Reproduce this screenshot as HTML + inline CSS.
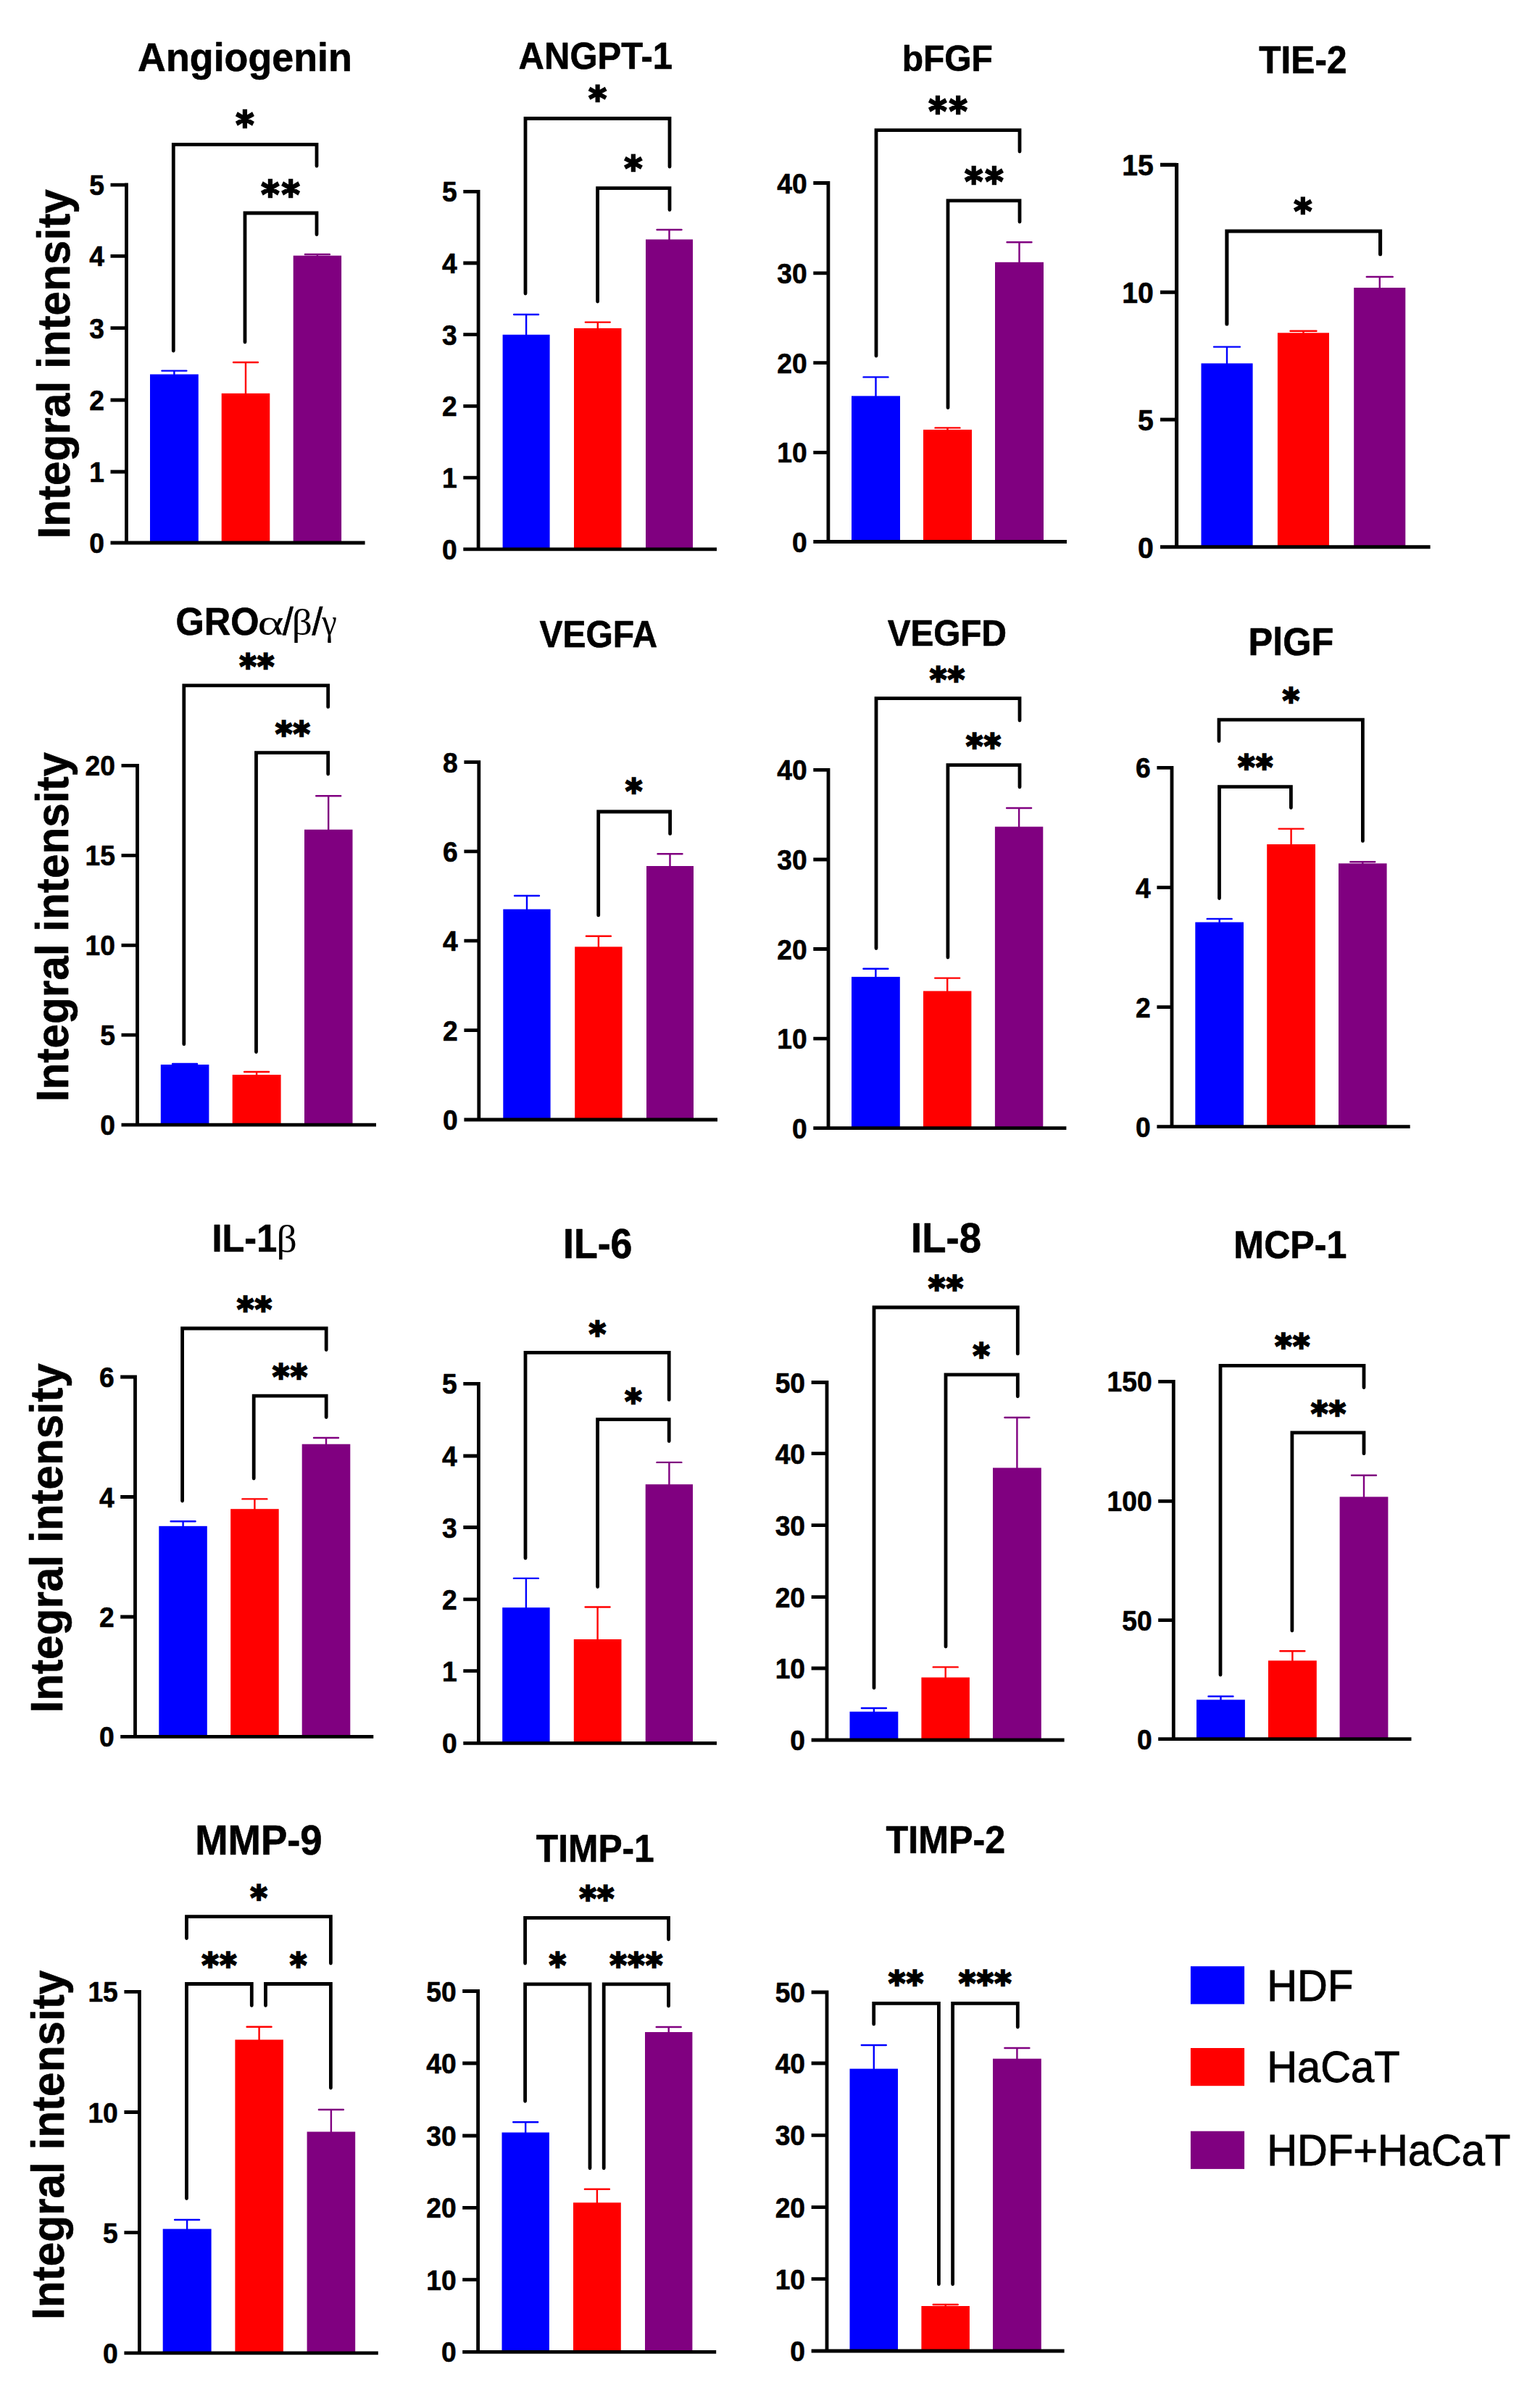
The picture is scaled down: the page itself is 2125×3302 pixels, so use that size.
<!DOCTYPE html>
<html lang="en"><head><meta charset="utf-8"><title>Integral intensity bar charts</title>
<style>html,body{margin:0;padding:0;background:#fff}svg{display:block}.b{font-family:"Liberation Sans",Arial,Helvetica,sans-serif;font-weight:bold;fill:#000;stroke:#000;stroke-width:0.6px;stroke-linejoin:round}.r{font-family:"Liberation Sans",Arial,Helvetica,sans-serif;fill:#000}.g{font-family:"Liberation Serif","Times New Roman",serif;font-weight:normal}.s{font-family:"DejaVu Sans","Liberation Sans",sans-serif;font-weight:bold;fill:#000;text-anchor:middle}.ax{stroke:#000;fill:none;stroke-linecap:butt;stroke-linejoin:miter}.br{stroke:#000;fill:none;stroke-linecap:round;stroke-linejoin:miter}</style></head><body>
<svg width="2125" height="3302" viewBox="0 0 2125 3302">
<rect width="2125" height="3302" fill="#fff"/>
<g>
<text class="b" transform="translate(338 98) scale(1 1.045)" font-size="53.8" text-anchor="middle">Angiogenin</text>
<rect x="207.0" y="516.5" width="66.8" height="232.5" fill="#0000ff"/>
<path d="M240.4 516.5V511.6M223.4 511.6H257.4" stroke="#0000ff" stroke-width="2.4" stroke-linecap="round" fill="none"/>
<rect x="305.7" y="542.8" width="66.6" height="206.2" fill="#ff0000"/>
<path d="M339.0 542.8V500.0M322.0 500.0H356.0" stroke="#ff0000" stroke-width="2.4" stroke-linecap="round" fill="none"/>
<rect x="404.7" y="352.7" width="66.4" height="396.3" fill="#800080"/>
<path d="M437.9 352.7V351.0M420.9 351.0H454.9" stroke="#800080" stroke-width="2.4" stroke-linecap="round" fill="none"/>
<path class="ax" d="M174.5 252.5V749M152.5 749H503.6M152.5 255.2H174.5M152.5 353.4H174.5M152.5 452.7H174.5M152.5 552H174.5M152.5 651H174.5" stroke-width="4.8"/>
<text class="b" transform="translate(143.9 269.2) scale(1 1.05)" font-size="37.2" text-anchor="end">5</text>
<text class="b" transform="translate(143.9 367.4) scale(1 1.05)" font-size="37.2" text-anchor="end">4</text>
<text class="b" transform="translate(143.9 466.7) scale(1 1.05)" font-size="37.2" text-anchor="end">3</text>
<text class="b" transform="translate(143.9 566.0) scale(1 1.05)" font-size="37.2" text-anchor="end">2</text>
<text class="b" transform="translate(143.9 665.0) scale(1 1.05)" font-size="37.2" text-anchor="end">1</text>
<text class="b" transform="translate(143.9 763.0) scale(1 1.05)" font-size="37.2" text-anchor="end">0</text>
<path class="br" d="M239.3 484V199.3H437V229" stroke-width="4.8"/>
<path class="br" d="M338 472V294H437V323.6" stroke-width="4.8"/>
<text class="s" transform="translate(339.7 190.2) scale(1 1.08)" font-size="47.5" letter-spacing="3.4" stroke="#000" stroke-width="2.3">*</text>
<text class="s" transform="translate(388.7 286.1) scale(1 1.08)" font-size="47.5" letter-spacing="3.4" stroke="#000" stroke-width="2.3">**</text>
</g>
<g>
<text class="b" transform="translate(821.8 94.6) scale(1 1.045)" font-size="49.0" text-anchor="middle">ANGPT-1</text>
<rect x="693.6" y="461.8" width="65.0" height="296.1" fill="#0000ff"/>
<path d="M726.1 461.8V434.0M709.1 434.0H743.1" stroke="#0000ff" stroke-width="2.4" stroke-linecap="round" fill="none"/>
<rect x="792.0" y="452.9" width="65.5" height="305.0" fill="#ff0000"/>
<path d="M824.8 452.9V444.6M807.8 444.6H841.8" stroke="#ff0000" stroke-width="2.4" stroke-linecap="round" fill="none"/>
<rect x="891.0" y="330.4" width="65.0" height="427.5" fill="#800080"/>
<path d="M923.5 330.4V317.0M906.5 317.0H940.5" stroke="#800080" stroke-width="2.4" stroke-linecap="round" fill="none"/>
<path class="ax" d="M660.1 261.9V757.9M639.3 757.9H989M639.3 264.3H660.1M639.3 363H660.1M639.3 461.7H660.1M639.3 560.4H660.1M639.3 659.1H660.1" stroke-width="4.8"/>
<text class="b" transform="translate(630.7 278.3) scale(1 1.05)" font-size="37.2" text-anchor="end">5</text>
<text class="b" transform="translate(630.7 377.0) scale(1 1.05)" font-size="37.2" text-anchor="end">4</text>
<text class="b" transform="translate(630.7 475.7) scale(1 1.05)" font-size="37.2" text-anchor="end">3</text>
<text class="b" transform="translate(630.7 574.4) scale(1 1.05)" font-size="37.2" text-anchor="end">2</text>
<text class="b" transform="translate(630.7 673.1) scale(1 1.05)" font-size="37.2" text-anchor="end">1</text>
<text class="b" transform="translate(630.7 771.9) scale(1 1.05)" font-size="37.2" text-anchor="end">0</text>
<path class="br" d="M725 405V163.5H924V230" stroke-width="4.8"/>
<path class="br" d="M824.6 416V259.7H924V289.5" stroke-width="4.8"/>
<text class="s" transform="translate(825.5 153.2) scale(1 1.03)" font-size="47.3" letter-spacing="1.6" stroke="#000" stroke-width="2.3">*</text>
<text class="s" transform="translate(874.7 249.1) scale(1 1.03)" font-size="47.3" letter-spacing="1.6" stroke="#000" stroke-width="2.3">*</text>
</g>
<g>
<text class="b" transform="translate(1307.3 98.2) scale(1 1.045)" font-size="48.0" text-anchor="middle">bFGF</text>
<rect x="1175.0" y="546.4" width="67.0" height="201.1" fill="#0000ff"/>
<path d="M1208.5 546.4V520.4M1191.5 520.4H1225.5" stroke="#0000ff" stroke-width="2.4" stroke-linecap="round" fill="none"/>
<rect x="1274.0" y="592.9" width="67.0" height="154.6" fill="#ff0000"/>
<path d="M1307.5 592.9V590.4M1290.5 590.4H1324.5" stroke="#ff0000" stroke-width="2.4" stroke-linecap="round" fill="none"/>
<rect x="1373.0" y="361.8" width="67.0" height="385.7" fill="#800080"/>
<path d="M1406.5 361.8V334.3M1389.5 334.3H1423.5" stroke="#800080" stroke-width="2.4" stroke-linecap="round" fill="none"/>
<path class="ax" d="M1142.9 250.1V747.5M1122.3 747.5H1472M1122.3 252.5H1142.9M1122.3 376.8H1142.9M1122.3 500.7H1142.9M1122.3 624.3H1142.9" stroke-width="4.8"/>
<text class="b" transform="translate(1113.7 266.5) scale(1 1.05)" font-size="37.2" text-anchor="end">40</text>
<text class="b" transform="translate(1113.7 390.8) scale(1 1.05)" font-size="37.2" text-anchor="end">30</text>
<text class="b" transform="translate(1113.7 514.7) scale(1 1.05)" font-size="37.2" text-anchor="end">20</text>
<text class="b" transform="translate(1113.7 638.3) scale(1 1.05)" font-size="37.2" text-anchor="end">10</text>
<text class="b" transform="translate(1113.7 761.5) scale(1 1.05)" font-size="37.2" text-anchor="end">0</text>
<path class="br" d="M1209 491V179.6H1407V209" stroke-width="4.8"/>
<path class="br" d="M1308 562.5V276.8H1407V306" stroke-width="4.8"/>
<text class="s" transform="translate(1309.8 170.8) scale(1 1.08)" font-size="47.5" letter-spacing="3.4" stroke="#000" stroke-width="2.3">**</text>
<text class="s" transform="translate(1359.4 267.8) scale(1 1.08)" font-size="47.5" letter-spacing="3.4" stroke="#000" stroke-width="2.3">**</text>
</g>
<g>
<text class="b" transform="translate(1797.9 101) scale(1 1.075)" font-size="49.6" text-anchor="middle">TIE-2</text>
<rect x="1657.5" y="501.4" width="71.1" height="253.4" fill="#0000ff"/>
<path d="M1693.0 501.4V478.6M1675.0 478.6H1711.0" stroke="#0000ff" stroke-width="2.4" stroke-linecap="round" fill="none"/>
<rect x="1762.9" y="459.3" width="71.1" height="295.5" fill="#ff0000"/>
<path d="M1798.5 459.3V456.8M1780.5 456.8H1816.5" stroke="#ff0000" stroke-width="2.4" stroke-linecap="round" fill="none"/>
<rect x="1868.2" y="397.0" width="71.1" height="357.8" fill="#800080"/>
<path d="M1903.8 397.0V382.0M1885.8 382.0H1921.8" stroke="#800080" stroke-width="2.4" stroke-linecap="round" fill="none"/>
<path class="ax" d="M1623.6 224.9V754.8M1601 754.8H1973.6M1601 227.4H1623.6M1601 403.2H1623.6M1601 579H1623.6" stroke-width="5.1"/>
<text class="b" transform="translate(1591.8 242.1) scale(1 1.05)" font-size="39.2" text-anchor="end">15</text>
<text class="b" transform="translate(1591.8 417.9) scale(1 1.05)" font-size="39.2" text-anchor="end">10</text>
<text class="b" transform="translate(1591.8 593.7) scale(1 1.05)" font-size="39.2" text-anchor="end">5</text>
<text class="b" transform="translate(1591.8 769.5) scale(1 1.05)" font-size="39.2" text-anchor="end">0</text>
<path class="br" d="M1692.9 447V319H1904.6V350.7" stroke-width="5.1"/>
<text class="s" transform="translate(1798.7 308.3) scale(1 1.03)" font-size="47.3" letter-spacing="1.6" stroke="#000" stroke-width="2.3">*</text>
</g>
<g>
<text class="b" transform="translate(242.6 876.0) scale(1 1.06)" font-size="50.5">GRO</text>
<text class="g" transform="translate(355.4 876.0) scale(1.357 1)" font-size="50.8">α</text>
<text class="r" x="389.9" y="876.0" font-size="53" stroke="#000" stroke-width="0.7">/</text>
<text class="g" transform="translate(402.8 876.0) scale(1.07 1)" font-size="51.7">β</text>
<text class="r" x="430.5" y="876.0" font-size="53" stroke="#000" stroke-width="0.7">/</text>
<text class="g" transform="translate(444.3 876.0) scale(0.893 1)" font-size="52">γ</text>
<rect x="221.8" y="1469.0" width="66.6" height="83.1" fill="#0000ff"/>
<path d="M255.1 1469.0V1468.0M238.1 1468.0H272.1" stroke="#0000ff" stroke-width="2.4" stroke-linecap="round" fill="none"/>
<rect x="320.7" y="1483.0" width="66.9" height="69.1" fill="#ff0000"/>
<path d="M354.1 1483.0V1479.0M337.1 1479.0H371.1" stroke="#ff0000" stroke-width="2.4" stroke-linecap="round" fill="none"/>
<rect x="420.0" y="1144.7" width="66.5" height="407.4" fill="#800080"/>
<path d="M453.2 1144.7V1098.2M436.2 1098.2H470.2" stroke="#800080" stroke-width="2.4" stroke-linecap="round" fill="none"/>
<path class="ax" d="M189.5 1054V1552.1M167.5 1552.1H519M167.5 1056.4H189.5M167.5 1180.3H189.5M167.5 1304.3H189.5M167.5 1428.2H189.5" stroke-width="4.8"/>
<text class="b" transform="translate(158.9 1070.4) scale(1 1.05)" font-size="37.2" text-anchor="end">20</text>
<text class="b" transform="translate(158.9 1194.3) scale(1 1.05)" font-size="37.2" text-anchor="end">15</text>
<text class="b" transform="translate(158.9 1318.3) scale(1 1.05)" font-size="37.2" text-anchor="end">10</text>
<text class="b" transform="translate(158.9 1442.2) scale(1 1.05)" font-size="37.2" text-anchor="end">5</text>
<text class="b" transform="translate(158.9 1566.1) scale(1 1.05)" font-size="37.2" text-anchor="end">0</text>
<path class="br" d="M253.8 1440.7V945.8H452.7V975.4" stroke-width="4.8"/>
<path class="br" d="M353.5 1451.6V1038.6H452.7V1068" stroke-width="4.8"/>
<text class="s" transform="translate(355.1 935.6) scale(1 1.03)" font-size="44.4" letter-spacing="1.5" stroke="#000" stroke-width="2.3">**</text>
<text class="s" transform="translate(404.6 1028.5) scale(1 1.03)" font-size="44.4" letter-spacing="1.5" stroke="#000" stroke-width="2.3">**</text>
</g>
<g>
<text class="b" transform="translate(825.7 893.2) scale(1 1.066)" font-size="48.0" text-anchor="middle">VEGFA</text>
<rect x="694.3" y="1254.6" width="65.3" height="290.4" fill="#0000ff"/>
<path d="M727.0 1254.6V1236.0M710.0 1236.0H744.0" stroke="#0000ff" stroke-width="2.4" stroke-linecap="round" fill="none"/>
<rect x="793.2" y="1306.4" width="65.4" height="238.6" fill="#ff0000"/>
<path d="M825.9 1306.4V1291.8M808.9 1291.8H842.9" stroke="#ff0000" stroke-width="2.4" stroke-linecap="round" fill="none"/>
<rect x="892.0" y="1195.0" width="65.0" height="350.0" fill="#800080"/>
<path d="M924.5 1195.0V1178.2M907.5 1178.2H941.5" stroke="#800080" stroke-width="2.4" stroke-linecap="round" fill="none"/>
<path class="ax" d="M660.8 1049.3V1545M640.4 1545H990M640.4 1051.7H660.8M640.4 1174.8H660.8M640.4 1298.2H660.8M640.4 1421.7H660.8" stroke-width="4.8"/>
<text class="b" transform="translate(631.8 1065.7) scale(1 1.05)" font-size="37.2" text-anchor="end">8</text>
<text class="b" transform="translate(631.8 1188.8) scale(1 1.05)" font-size="37.2" text-anchor="end">6</text>
<text class="b" transform="translate(631.8 1312.2) scale(1 1.05)" font-size="37.2" text-anchor="end">4</text>
<text class="b" transform="translate(631.8 1435.7) scale(1 1.05)" font-size="37.2" text-anchor="end">2</text>
<text class="b" transform="translate(631.8 1559.0) scale(1 1.05)" font-size="37.2" text-anchor="end">0</text>
<path class="br" d="M825.7 1262.9V1120H924.6V1150.4" stroke-width="4.8"/>
<text class="s" transform="translate(875.4 1108.1) scale(1 1.03)" font-size="44.4" letter-spacing="1.5" stroke="#000" stroke-width="2.3">*</text>
</g>
<g>
<text class="b" transform="translate(1306.8 891.4) scale(1 1.062)" font-size="47.7" text-anchor="middle">VEGFD</text>
<rect x="1175.0" y="1347.9" width="66.8" height="208.7" fill="#0000ff"/>
<path d="M1208.4 1347.9V1336.8M1191.4 1336.8H1225.4" stroke="#0000ff" stroke-width="2.4" stroke-linecap="round" fill="none"/>
<rect x="1274.0" y="1367.5" width="66.4" height="189.1" fill="#ff0000"/>
<path d="M1307.2 1367.5V1349.6M1290.2 1349.6H1324.2" stroke="#ff0000" stroke-width="2.4" stroke-linecap="round" fill="none"/>
<rect x="1372.9" y="1140.7" width="66.4" height="415.9" fill="#800080"/>
<path d="M1406.1 1140.7V1115.0M1389.1 1115.0H1423.1" stroke="#800080" stroke-width="2.4" stroke-linecap="round" fill="none"/>
<path class="ax" d="M1143 1060V1556.6M1122.3 1556.6H1471.4M1122.3 1062.4H1143M1122.3 1186H1143M1122.3 1309.5H1143M1122.3 1433.1H1143" stroke-width="4.8"/>
<text class="b" transform="translate(1113.7 1076.4) scale(1 1.05)" font-size="37.2" text-anchor="end">40</text>
<text class="b" transform="translate(1113.7 1200.0) scale(1 1.05)" font-size="37.2" text-anchor="end">30</text>
<text class="b" transform="translate(1113.7 1323.5) scale(1 1.05)" font-size="37.2" text-anchor="end">20</text>
<text class="b" transform="translate(1113.7 1447.1) scale(1 1.05)" font-size="37.2" text-anchor="end">10</text>
<text class="b" transform="translate(1113.7 1570.6) scale(1 1.05)" font-size="37.2" text-anchor="end">0</text>
<path class="br" d="M1209 1308.6V963.6H1407V994" stroke-width="4.8"/>
<path class="br" d="M1307.9 1321V1055.7H1407V1086" stroke-width="4.8"/>
<text class="s" transform="translate(1307.8 953.6) scale(1 1.03)" font-size="44.4" letter-spacing="1.5" stroke="#000" stroke-width="2.3">**</text>
<text class="s" transform="translate(1357.8 1045.7) scale(1 1.03)" font-size="44.4" letter-spacing="1.5" stroke="#000" stroke-width="2.3">**</text>
</g>
<g>
<text class="b" transform="translate(1781.4 904) scale(1 1.045)" font-size="50.5" text-anchor="middle">PlGF</text>
<rect x="1649.3" y="1272.5" width="66.7" height="282.1" fill="#0000ff"/>
<path d="M1682.7 1272.5V1267.9M1665.7 1267.9H1699.7" stroke="#0000ff" stroke-width="2.4" stroke-linecap="round" fill="none"/>
<rect x="1748.2" y="1165.0" width="66.8" height="389.6" fill="#ff0000"/>
<path d="M1781.6 1165.0V1143.6M1764.6 1143.6H1798.6" stroke="#ff0000" stroke-width="2.4" stroke-linecap="round" fill="none"/>
<rect x="1847.0" y="1191.4" width="66.6" height="363.2" fill="#800080"/>
<path d="M1880.3 1191.4V1189.3M1863.3 1189.3H1897.3" stroke="#800080" stroke-width="2.4" stroke-linecap="round" fill="none"/>
<path class="ax" d="M1617 1057V1554.6M1596.4 1554.6H1945.7M1596.4 1059.3H1617M1596.4 1224.6H1617M1596.4 1389.6H1617" stroke-width="4.8"/>
<text class="b" transform="translate(1587.8 1073.3) scale(1 1.05)" font-size="37.2" text-anchor="end">6</text>
<text class="b" transform="translate(1587.8 1238.6) scale(1 1.05)" font-size="37.2" text-anchor="end">4</text>
<text class="b" transform="translate(1587.8 1403.6) scale(1 1.05)" font-size="37.2" text-anchor="end">2</text>
<text class="b" transform="translate(1587.8 1568.6) scale(1 1.05)" font-size="37.2" text-anchor="end">0</text>
<path class="br" d="M1682 1022.5V993.2H1880.4V1160.4" stroke-width="4.8"/>
<path class="br" d="M1682.5 1239.6V1085.7H1781.4V1114.6" stroke-width="4.8"/>
<text class="s" transform="translate(1782.2 982.8) scale(1 1.03)" font-size="44.4" letter-spacing="1.5" stroke="#000" stroke-width="2.3">*</text>
<text class="s" transform="translate(1733.0 1074.6) scale(1 1.03)" font-size="44.4" letter-spacing="1.5" stroke="#000" stroke-width="2.3">**</text>
</g>
<g>
<text class="b" transform="translate(292.6 1726.8) scale(1 1.05)" font-size="50.4">IL-1</text>
<text class="g" transform="translate(381.4 1726.8) scale(1.07 1)" font-size="52">β</text>
<rect x="219.3" y="2105.8" width="66.5" height="290.6" fill="#0000ff"/>
<path d="M252.6 2105.8V2099.3M235.6 2099.3H269.6" stroke="#0000ff" stroke-width="2.4" stroke-linecap="round" fill="none"/>
<rect x="318.2" y="2082.2" width="66.5" height="314.2" fill="#ff0000"/>
<path d="M351.4 2082.2V2068.4M334.4 2068.4H368.4" stroke="#ff0000" stroke-width="2.4" stroke-linecap="round" fill="none"/>
<rect x="416.7" y="1992.7" width="66.6" height="403.7" fill="#800080"/>
<path d="M450.0 1992.7V1984.0M433.0 1984.0H467.0" stroke="#800080" stroke-width="2.4" stroke-linecap="round" fill="none"/>
<path class="ax" d="M186.5 1897.6V2396.4M166.2 2396.4H515.3M166.2 1900H186.5M166.2 2065.5H186.5M166.2 2231H186.5" stroke-width="4.8"/>
<text class="b" transform="translate(157.6 1914.0) scale(1 1.05)" font-size="37.2" text-anchor="end">6</text>
<text class="b" transform="translate(157.6 2079.5) scale(1 1.05)" font-size="37.2" text-anchor="end">4</text>
<text class="b" transform="translate(157.6 2245.0) scale(1 1.05)" font-size="37.2" text-anchor="end">2</text>
<text class="b" transform="translate(157.6 2410.4) scale(1 1.05)" font-size="37.2" text-anchor="end">0</text>
<path class="br" d="M251.6 2071V1833H450.2V1862.5" stroke-width="4.8"/>
<path class="br" d="M350.2 2040V1926.2H450.2V1955.6" stroke-width="4.8"/>
<text class="s" transform="translate(351.8 1822.9) scale(1 1.03)" font-size="44.4" letter-spacing="1.5" stroke="#000" stroke-width="2.3">**</text>
<text class="s" transform="translate(400.8 1915.6) scale(1 1.03)" font-size="44.4" letter-spacing="1.5" stroke="#000" stroke-width="2.3">**</text>
</g>
<g>
<text class="b" transform="translate(824.7 1735.7) scale(1 1.061)" font-size="53.7" text-anchor="middle">IL-6</text>
<rect x="693.2" y="2218.2" width="65.4" height="187.2" fill="#0000ff"/>
<path d="M725.9 2218.2V2177.9M708.9 2177.9H742.9" stroke="#0000ff" stroke-width="2.4" stroke-linecap="round" fill="none"/>
<rect x="791.8" y="2262.0" width="65.7" height="143.4" fill="#ff0000"/>
<path d="M824.6 2262.0V2217.5M807.6 2217.5H841.6" stroke="#ff0000" stroke-width="2.4" stroke-linecap="round" fill="none"/>
<rect x="890.7" y="2048.2" width="65.3" height="357.2" fill="#800080"/>
<path d="M923.4 2048.2V2017.9M906.4 2017.9H940.4" stroke="#800080" stroke-width="2.4" stroke-linecap="round" fill="none"/>
<path class="ax" d="M660.4 1907V2405.4M639.3 2405.4H989M639.3 1909.3H660.4M639.3 2009H660.4M639.3 2107.5H660.4M639.3 2206.8H660.4M639.3 2305.7H660.4" stroke-width="4.8"/>
<text class="b" transform="translate(630.7 1923.3) scale(1 1.05)" font-size="37.2" text-anchor="end">5</text>
<text class="b" transform="translate(630.7 2023.0) scale(1 1.05)" font-size="37.2" text-anchor="end">4</text>
<text class="b" transform="translate(630.7 2121.5) scale(1 1.05)" font-size="37.2" text-anchor="end">3</text>
<text class="b" transform="translate(630.7 2220.8) scale(1 1.05)" font-size="37.2" text-anchor="end">2</text>
<text class="b" transform="translate(630.7 2319.7) scale(1 1.05)" font-size="37.2" text-anchor="end">1</text>
<text class="b" transform="translate(630.7 2419.4) scale(1 1.05)" font-size="37.2" text-anchor="end">0</text>
<path class="br" d="M725 2150V1866.4H923.2V1931.4" stroke-width="4.8"/>
<path class="br" d="M824.6 2189.6V1958.6H923.2V1988.6" stroke-width="4.8"/>
<text class="s" transform="translate(825.0 1857.0) scale(1 1.03)" font-size="44.4" letter-spacing="1.5" stroke="#000" stroke-width="2.3">*</text>
<text class="s" transform="translate(874.5 1949.5) scale(1 1.03)" font-size="44.4" letter-spacing="1.5" stroke="#000" stroke-width="2.3">*</text>
</g>
<g>
<text class="b" transform="translate(1305.5 1727.9) scale(1 1.045)" font-size="54.5" text-anchor="middle">IL-8</text>
<rect x="1172.5" y="2361.8" width="66.8" height="39.2" fill="#0000ff"/>
<path d="M1205.9 2361.8V2357.0M1188.9 2357.0H1222.9" stroke="#0000ff" stroke-width="2.4" stroke-linecap="round" fill="none"/>
<rect x="1271.4" y="2314.6" width="66.5" height="86.4" fill="#ff0000"/>
<path d="M1304.7 2314.6V2300.4M1287.7 2300.4H1321.7" stroke="#ff0000" stroke-width="2.4" stroke-linecap="round" fill="none"/>
<rect x="1370.0" y="2025.4" width="66.8" height="375.6" fill="#800080"/>
<path d="M1403.4 2025.4V1956.0M1386.4 1956.0H1420.4" stroke="#800080" stroke-width="2.4" stroke-linecap="round" fill="none"/>
<path class="ax" d="M1141 1905V2401M1119.6 2401H1468.6M1119.6 1907.5H1141M1119.6 2005.7H1141M1119.6 2104.6H1141M1119.6 2203.6H1141M1119.6 2302H1141" stroke-width="4.8"/>
<text class="b" transform="translate(1111.0 1921.5) scale(1 1.05)" font-size="37.2" text-anchor="end">50</text>
<text class="b" transform="translate(1111.0 2019.7) scale(1 1.05)" font-size="37.2" text-anchor="end">40</text>
<text class="b" transform="translate(1111.0 2118.6) scale(1 1.05)" font-size="37.2" text-anchor="end">30</text>
<text class="b" transform="translate(1111.0 2217.6) scale(1 1.05)" font-size="37.2" text-anchor="end">20</text>
<text class="b" transform="translate(1111.0 2316.0) scale(1 1.05)" font-size="37.2" text-anchor="end">10</text>
<text class="b" transform="translate(1111.0 2415.0) scale(1 1.05)" font-size="37.2" text-anchor="end">0</text>
<path class="br" d="M1206 2329V1804H1404.3V1867.9" stroke-width="4.8"/>
<path class="br" d="M1305 2272V1896.8H1404.3V1926.8" stroke-width="4.8"/>
<text class="s" transform="translate(1305.7 1794.0) scale(1 1.03)" font-size="44.4" letter-spacing="1.5" stroke="#000" stroke-width="2.3">**</text>
<text class="s" transform="translate(1354.8 1887.0) scale(1 1.03)" font-size="44.4" letter-spacing="1.5" stroke="#000" stroke-width="2.3">*</text>
</g>
<g>
<text class="b" transform="translate(1780.4 1735.7) scale(1 1.062)" font-size="50.2" text-anchor="middle">MCP-1</text>
<rect x="1651.0" y="2345.4" width="66.9" height="54.2" fill="#0000ff"/>
<path d="M1684.5 2345.4V2340.7M1667.5 2340.7H1701.5" stroke="#0000ff" stroke-width="2.4" stroke-linecap="round" fill="none"/>
<rect x="1750.0" y="2291.4" width="66.8" height="108.2" fill="#ff0000"/>
<path d="M1783.4 2291.4V2278.2M1766.4 2278.2H1800.4" stroke="#ff0000" stroke-width="2.4" stroke-linecap="round" fill="none"/>
<rect x="1848.6" y="2065.4" width="66.8" height="334.2" fill="#800080"/>
<path d="M1882.0 2065.4V2035.7M1865.0 2035.7H1899.0" stroke="#800080" stroke-width="2.4" stroke-linecap="round" fill="none"/>
<path class="ax" d="M1619.3 1904V2399.6M1598.2 2399.6H1947.5M1598.2 1906.4H1619.3M1598.2 2071.4H1619.3M1598.2 2235.7H1619.3" stroke-width="4.8"/>
<text class="b" transform="translate(1589.6 1920.4) scale(1 1.05)" font-size="37.2" text-anchor="end">150</text>
<text class="b" transform="translate(1589.6 2085.4) scale(1 1.05)" font-size="37.2" text-anchor="end">100</text>
<text class="b" transform="translate(1589.6 2249.7) scale(1 1.05)" font-size="37.2" text-anchor="end">50</text>
<text class="b" transform="translate(1589.6 2413.6) scale(1 1.05)" font-size="37.2" text-anchor="end">0</text>
<path class="br" d="M1684 2311V1884.3H1882V1914.6" stroke-width="4.8"/>
<path class="br" d="M1782.9 2250V1976.8H1882V2005.7" stroke-width="4.8"/>
<text class="s" transform="translate(1784.0 1874.0) scale(1 1.03)" font-size="44.4" letter-spacing="1.5" stroke="#000" stroke-width="2.3">**</text>
<text class="s" transform="translate(1833.7 1966.8) scale(1 1.03)" font-size="44.4" letter-spacing="1.5" stroke="#000" stroke-width="2.3">**</text>
</g>
<g>
<text class="b" transform="translate(356.9 2559.3) scale(1 1.045)" font-size="54.5" text-anchor="middle">MMP-9</text>
<rect x="224.7" y="3075.6" width="66.9" height="171.2" fill="#0000ff"/>
<path d="M258.1 3075.6V3063.0M241.1 3063.0H275.1" stroke="#0000ff" stroke-width="2.4" stroke-linecap="round" fill="none"/>
<rect x="324.4" y="2814.5" width="66.5" height="432.3" fill="#ff0000"/>
<path d="M357.6 2814.5V2796.7M340.6 2796.7H374.6" stroke="#ff0000" stroke-width="2.4" stroke-linecap="round" fill="none"/>
<rect x="423.6" y="2941.5" width="66.6" height="305.3" fill="#800080"/>
<path d="M456.9 2941.5V2911.0M439.9 2911.0H473.9" stroke="#800080" stroke-width="2.4" stroke-linecap="round" fill="none"/>
<path class="ax" d="M192.4 2746V3246.8M171.4 3246.8H521.8M171.4 2748.4H192.4M171.4 2914.5H192.4M171.4 3080.7H192.4" stroke-width="4.8"/>
<text class="b" transform="translate(162.8 2762.4) scale(1 1.05)" font-size="37.2" text-anchor="end">15</text>
<text class="b" transform="translate(162.8 2928.5) scale(1 1.05)" font-size="37.2" text-anchor="end">10</text>
<text class="b" transform="translate(162.8 3094.7) scale(1 1.05)" font-size="37.2" text-anchor="end">5</text>
<text class="b" transform="translate(162.8 3260.8) scale(1 1.05)" font-size="37.2" text-anchor="end">0</text>
<path class="br" d="M257.5 2674.5V2644.7H456.4V2709" stroke-width="4.8"/>
<path class="br" d="M257.5 3033.5V2737.5H347.3V2767.3" stroke-width="4.8"/>
<path class="br" d="M366.5 2767.3V2737.5H456.4V2881" stroke-width="4.8"/>
<text class="s" transform="translate(357.8 2634.6) scale(1 1.03)" font-size="44.4" letter-spacing="1.5" stroke="#000" stroke-width="2.3">*</text>
<text class="s" transform="translate(303.2 2727.6) scale(1 1.03)" font-size="44.4" letter-spacing="1.5" stroke="#000" stroke-width="2.3">**</text>
<text class="s" transform="translate(412.4 2727.6) scale(1 1.03)" font-size="44.4" letter-spacing="1.5" stroke="#000" stroke-width="2.3">*</text>
</g>
<g>
<text class="b" transform="translate(821.3 2569) scale(1 1.073)" font-size="49.7" text-anchor="middle">TIMP-1</text>
<rect x="692.5" y="2942.5" width="65.4" height="302.9" fill="#0000ff"/>
<path d="M725.2 2942.5V2928.2M708.2 2928.2H742.2" stroke="#0000ff" stroke-width="2.4" stroke-linecap="round" fill="none"/>
<rect x="791.0" y="3039.3" width="65.8" height="206.1" fill="#ff0000"/>
<path d="M823.9 3039.3V3020.7M806.9 3020.7H840.9" stroke="#ff0000" stroke-width="2.4" stroke-linecap="round" fill="none"/>
<rect x="890.0" y="2804.0" width="65.4" height="441.4" fill="#800080"/>
<path d="M922.7 2804.0V2797.0M905.7 2797.0H939.7" stroke="#800080" stroke-width="2.4" stroke-linecap="round" fill="none"/>
<path class="ax" d="M659.6 2745V3245.4M638.2 3245.4H988.2M638.2 2747.5H659.6M638.2 2847H659.6M638.2 2947H659.6M638.2 3046.4H659.6M638.2 3145.7H659.6" stroke-width="4.8"/>
<text class="b" transform="translate(629.6 2761.5) scale(1 1.05)" font-size="37.2" text-anchor="end">50</text>
<text class="b" transform="translate(629.6 2861.0) scale(1 1.05)" font-size="37.2" text-anchor="end">40</text>
<text class="b" transform="translate(629.6 2961.0) scale(1 1.05)" font-size="37.2" text-anchor="end">30</text>
<text class="b" transform="translate(629.6 3060.4) scale(1 1.05)" font-size="37.2" text-anchor="end">20</text>
<text class="b" transform="translate(629.6 3159.7) scale(1 1.05)" font-size="37.2" text-anchor="end">10</text>
<text class="b" transform="translate(629.6 3259.4) scale(1 1.05)" font-size="37.2" text-anchor="end">0</text>
<path class="br" d="M724.6 2709V2646.4H922.5V2676" stroke-width="4.8"/>
<path class="br" d="M724.6 2899.3V2737.9H814V2991.8" stroke-width="4.8"/>
<path class="br" d="M833.2 2991.8V2737.9H922.5V2767.9" stroke-width="4.8"/>
<text class="s" transform="translate(824.1 2635.5) scale(1 1.03)" font-size="44.4" letter-spacing="1.5" stroke="#000" stroke-width="2.3">**</text>
<text class="s" transform="translate(770.0 2728.0) scale(1 1.03)" font-size="44.4" letter-spacing="1.5" stroke="#000" stroke-width="2.3">*</text>
<text class="s" transform="translate(878.6 2728.0) scale(1 1.03)" font-size="44.4" letter-spacing="1.5" stroke="#000" stroke-width="2.3">***</text>
</g>
<g>
<text class="b" transform="translate(1304.8 2557) scale(1 1.072)" font-size="50.2" text-anchor="middle">TIMP-2</text>
<rect x="1172.5" y="2854.6" width="66.5" height="389.4" fill="#0000ff"/>
<path d="M1205.8 2854.6V2822.0M1188.8 2822.0H1222.8" stroke="#0000ff" stroke-width="2.4" stroke-linecap="round" fill="none"/>
<rect x="1271.4" y="3182.0" width="66.5" height="62.0" fill="#ff0000"/>
<path d="M1304.7 3182.0V3180.0M1287.7 3180.0H1321.7" stroke="#ff0000" stroke-width="2.4" stroke-linecap="round" fill="none"/>
<rect x="1370.0" y="2840.7" width="66.8" height="403.3" fill="#800080"/>
<path d="M1403.4 2840.7V2826.0M1386.4 2826.0H1420.4" stroke="#800080" stroke-width="2.4" stroke-linecap="round" fill="none"/>
<path class="ax" d="M1141 2746.6V3244M1119.6 3244H1468.6M1119.6 2749H1141M1119.6 2847H1141M1119.6 2946.4H1141M1119.6 3045.7H1141M1119.6 3144.6H1141" stroke-width="4.8"/>
<text class="b" transform="translate(1111.0 2763.0) scale(1 1.05)" font-size="37.2" text-anchor="end">50</text>
<text class="b" transform="translate(1111.0 2861.0) scale(1 1.05)" font-size="37.2" text-anchor="end">40</text>
<text class="b" transform="translate(1111.0 2960.4) scale(1 1.05)" font-size="37.2" text-anchor="end">30</text>
<text class="b" transform="translate(1111.0 3059.7) scale(1 1.05)" font-size="37.2" text-anchor="end">20</text>
<text class="b" transform="translate(1111.0 3158.6) scale(1 1.05)" font-size="37.2" text-anchor="end">10</text>
<text class="b" transform="translate(1111.0 3258.0) scale(1 1.05)" font-size="37.2" text-anchor="end">0</text>
<path class="br" d="M1205.7 2792.9V2764.3H1295.4V3151.8" stroke-width="4.8"/>
<path class="br" d="M1314.6 3151.8V2764.3H1404.3V2797" stroke-width="4.8"/>
<text class="s" transform="translate(1250.8 2753.1) scale(1 1.03)" font-size="44.4" letter-spacing="1.5" stroke="#000" stroke-width="2.3">**</text>
<text class="s" transform="translate(1360.0 2753.1) scale(1 1.03)" font-size="44.4" letter-spacing="1.5" stroke="#000" stroke-width="2.3">***</text>
</g>
<text class="b" transform="translate(96.3 743.6) rotate(-90) scale(1 1.04)" font-size="60.3">Integral intensity</text>
<text class="b" transform="translate(93.6 1520.2) rotate(-90) scale(1 1.04)" font-size="60.3">Integral intensity</text>
<text class="b" transform="translate(85.5 2363.6) rotate(-90) scale(1 1.04)" font-size="60.3">Integral intensity</text>
<text class="b" transform="translate(88.4 3201.0) rotate(-90) scale(1 1.04)" font-size="60.3">Integral intensity</text>
<rect x="1642.9" y="2713.2" width="74.2" height="52.2" fill="#0000ff"/>
<text class="r" transform="translate(1748.3 2760.7) scale(1 1.045)" font-size="57.9" stroke="#000" stroke-width="0.9">HDF</text>
<rect x="1642.9" y="2826" width="74.2" height="52.2" fill="#ff0000"/>
<text class="r" transform="translate(1748.3 2873.2) scale(1 1.045)" font-size="57.9" stroke="#000" stroke-width="0.9">HaCaT</text>
<rect x="1642.9" y="2940.7" width="74.2" height="52.2" fill="#800080"/>
<text class="r" transform="translate(1748.3 2987.5) scale(1 1.045)" font-size="57.9" stroke="#000" stroke-width="0.9">HDF+HaCaT</text>
</svg></body></html>
